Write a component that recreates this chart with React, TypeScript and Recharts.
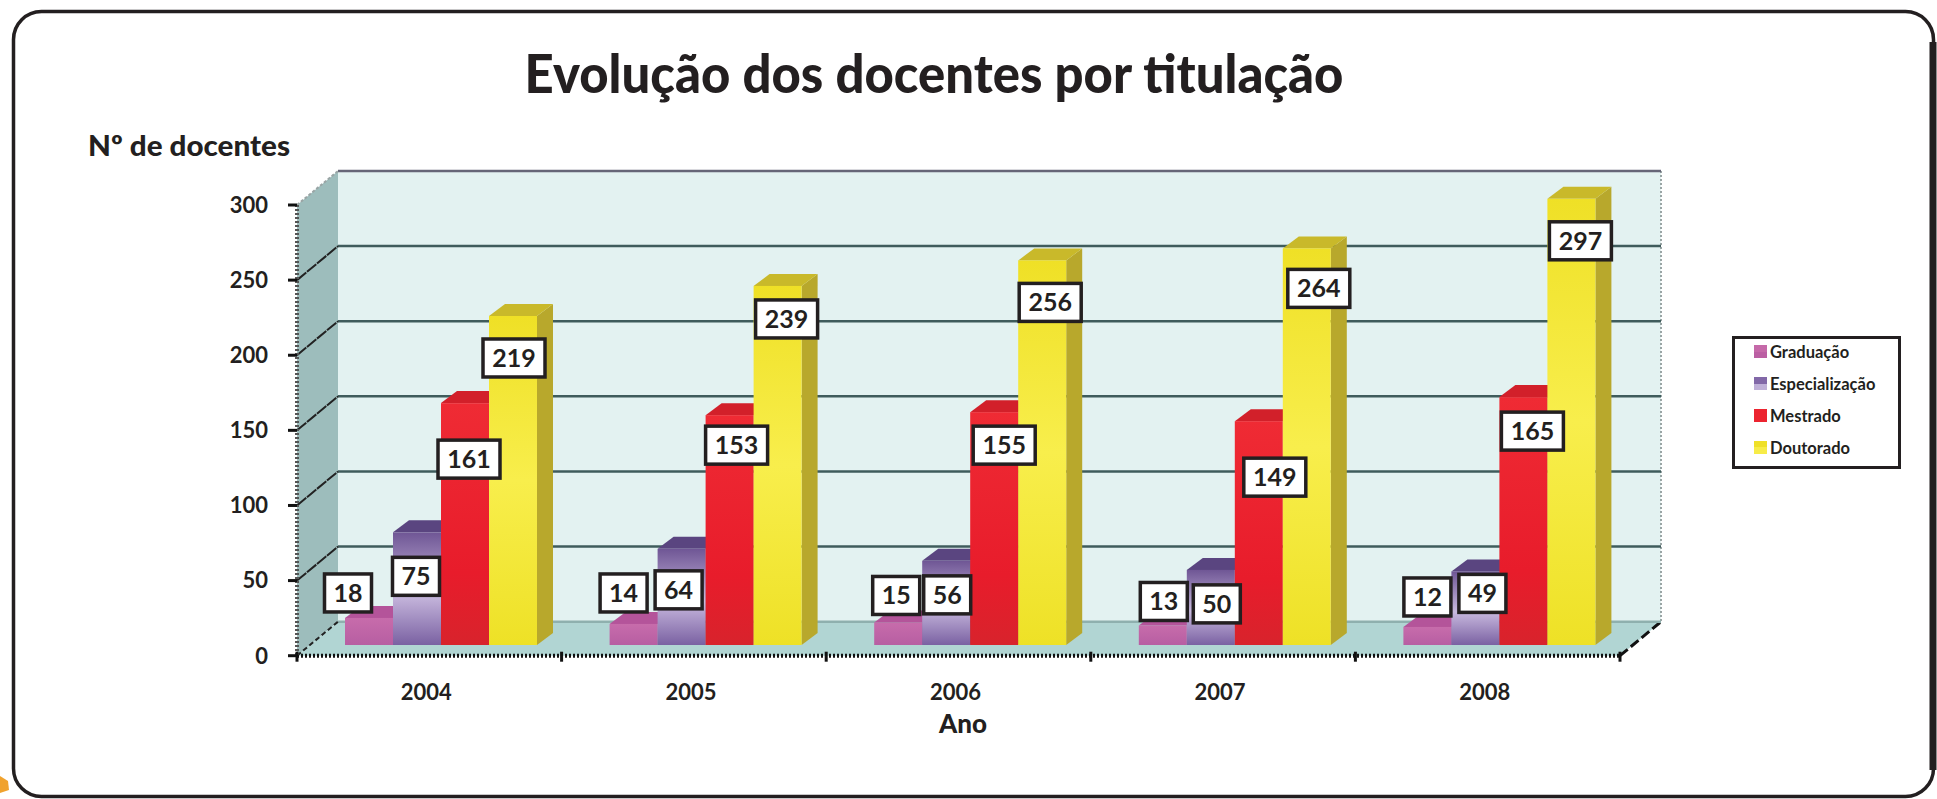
import { BarChart, Bar, XAxis, YAxis, CartesianGrid, Legend, LabelList } from "recharts";

const years = ["2004", "2005", "2006", "2007", "2008"];
const graduacao = [18, 14, 15, 13, 12];
const especializacao = [75, 64, 56, 50, 49];
const mestrado = [161, 153, 155, 149, 165];
const doutorado = [219, 239, 256, 264, 297];
const yTicks = [0, 50, 100, 150, 200, 250, 300];

// label boxes sit wherever the original author dragged them, offsets from each bar top
const gradOffsets = [[-21, -25], [-10, -31], [-2, -27], [1, -24], [0, -30]];
const espOffsets = [[-1, 44], [-3, 41], [1, 34], [6, 34], [7, 22]];
const mestOffsets = [[4, 56], [7, 30], [10, 33], [16, 56], [9, 34]];
const doutOffsets = [[1, 42], [9, 33], [8, 42], [12, 40], [9, 42]];

const data = years.map((year, i) => ({
  year,
  grad: graduacao[i],
  esp: especializacao[i],
  mest: mestrado[i],
  dout: doutorado[i],
}));

const W = 1937;
const H = 799;
const LEFT = 297;
const RIGHT = 1620;
const TOP = 205;
const BOTTOM = 655.7;
const BACK_DX = 41;
const BACK_DY = -34;
const BAND = (RIGHT - LEFT) / years.length;
const FONT = "Lato, sans-serif";
const INK = "#231f20";

const swatches: Record<string, string> = {
  "Graduação": "linear-gradient(#c569a9 50%, #bb5fa3 50%)",
  "Especialização": "linear-gradient(#8268a8 50%, #bfb0d8 50%)",
  "Mestrado": "#ec2430",
  "Doutorado": "linear-gradient(#efe028 50%, #f7ec48 50%)",
};

function BarShape(props: any) {
  const { x, y, width, height, fill, topColor, sideColor } = props;
  const bx = x + 12;
  const by = y - 10.7;
  const d = 16;
  const e = 12;
  return (
    <g>
      <polygon
        points={`${bx + width},${by} ${bx + width + d},${by - e} ${bx + width + d},${by + height - e} ${bx + width},${by + height}`}
        fill={sideColor}
      />
      <polygon
        points={`${bx},${by} ${bx + d},${by - e} ${bx + width + d},${by - e} ${bx + width},${by}`}
        fill={topColor}
      />
      <rect x={bx} y={by} width={width} height={height} fill={fill} />
    </g>
  );
}

function boxLabel(offsets: number[][]) {
  return (props: any) => {
    const { x, y, width, value, index } = props;
    const [dx, dy] = offsets[index];
    const cx = x + width / 2 + 12 + dx;
    const cy = y - 10.7 + dy;
    const w = String(value).length > 2 ? 62 : 47;
    return (
      <g>
        <rect x={cx - w / 2} y={cy - 19} width={w} height={38} fill="#fff" stroke={INK} strokeWidth={3.5} />
        <text x={cx} y={cy + 9} textAnchor="middle" fontFamily={FONT} fontWeight={700} fontSize={25} fill={INK}>
          {value}
        </text>
      </g>
    );
  };
}

function gridLine(props: any) {
  const { x1, x2, y1 } = props;
  const isTop = y1 < TOP + 1;
  const isFloor = y1 > BOTTOM - 1;
  return (
    <g>
      <line
        x1={x1 + BACK_DX}
        x2={x2 + BACK_DX}
        y1={y1 + BACK_DY}
        y2={y1 + BACK_DY}
        stroke={isFloor ? "#8fb0ae" : isTop ? "#667" : "#3f5c5c"}
        strokeWidth={2.5}
      />
      <line
        x1={x1}
        x2={x1 + BACK_DX}
        y1={y1}
        y2={y1 + BACK_DY}
        stroke={isTop ? "#9aa5a5" : "#222"}
        strokeWidth={2}
        strokeDasharray={isFloor ? "5 3" : isTop ? "3 2" : "12 1"}
      />
    </g>
  );
}

function YearTick(props: any) {
  const { x, y, payload, index } = props;
  const edge = x - BAND / 2;
  return (
    <g>
      <line x1={edge} x2={edge} y1={y - 12} y2={y - 2} stroke="#111" strokeWidth={3} />
      {index === years.length - 1 && <line x1={edge + BAND} x2={edge + BAND} y1={y - 12} y2={y - 2} stroke="#111" strokeWidth={3} />}
      <text x={x - 3} y={y + 36} textAnchor="middle" fontFamily={FONT} fontWeight={700} fontSize={22} fill={INK}>
        {payload.value}
      </text>
    </g>
  );
}

function LegendBox(props: any) {
  return (
    <div style={{ width: 163, height: 127, border: `3px solid ${INK}`, background: "#fff", fontFamily: FONT, fontWeight: 700, fontSize: 16.5, color: INK, position: "relative" }}>
      {(props.payload || []).map((item: any, i: number) => (
        <div key={item.value} style={{ position: "absolute", left: 19, top: 4 + i * 32, height: 13, whiteSpace: "nowrap", lineHeight: "18px" }}>
          <span style={{ display: "inline-block", width: 13, height: 13, background: swatches[item.value], marginRight: 3 }} />
          {item.value}
        </div>
      ))}
    </div>
  );
}

export default function App() {
  return (
    <div style={{ position: "absolute", left: 0, top: 0, width: W, height: H, overflow: "hidden", background: "#fff" }}>
      <style>{"body{margin:0}"}</style>
      <svg width={W} height={H} style={{ position: "absolute", left: 0, top: 0 }}>
        <rect x={13.5} y={11.5} width={1920} height={785} rx={28} fill="#fff" stroke={INK} strokeWidth={3.5} />
        <line x1={1933} x2={1933} y1={42} y2={770} stroke={INK} strokeWidth={7} />
        <polygon points="0,776 8,781 9,790 0,793" fill="#f0a22e" />
        <text x={934} y={93} textAnchor="middle" fontFamily={FONT} fontWeight={900} fontSize={54} textLength={819} lengthAdjust="spacingAndGlyphs" fill={INK}>
          Evolução dos docentes por titulação
        </text>
        <text x={88} y={156} fontFamily={FONT} fontWeight={900} fontSize={29} textLength={202} lengthAdjust="spacingAndGlyphs" fill={INK}>
          Nº de docentes
        </text>
        <text x={963} y={733} textAnchor="middle" fontFamily={FONT} fontWeight={900} fontSize={26} fill={INK}>
          Ano
        </text>
        <polygon points={`${LEFT},${BOTTOM} ${LEFT + BACK_DX},${BOTTOM + BACK_DY} ${LEFT + BACK_DX},${TOP + BACK_DY} ${LEFT},${TOP}`} fill="#9dbdbc" />
        <rect x={LEFT + BACK_DX} y={TOP + BACK_DY} width={RIGHT - LEFT} height={BOTTOM - TOP} fill="#e3f2f1" />
        <polygon points={`${LEFT},${BOTTOM} ${LEFT + BACK_DX},${BOTTOM + BACK_DY} ${RIGHT + BACK_DX},${BOTTOM + BACK_DY} ${RIGHT},${BOTTOM}`} fill="#b1d5d3" />
        <line x1={RIGHT + BACK_DX} x2={RIGHT + BACK_DX} y1={TOP + BACK_DY} y2={BOTTOM + BACK_DY} stroke="#9aa5a5" strokeWidth={2} strokeDasharray="2 2" />
        <line x1={RIGHT} x2={RIGHT + BACK_DX} y1={BOTTOM} y2={BOTTOM + BACK_DY} stroke="#111" strokeWidth={3} strokeDasharray="10 4" />
      </svg>
      <div style={{ position: "absolute", left: 0, top: 0 }}>
        <BarChart
          width={W}
          height={H}
          data={data}
          margin={{ top: TOP, right: W - RIGHT, bottom: 0, left: 0 }}
          barCategoryGap={36}
          barGap={0}
          barSize={48}
        >
          <defs>
            <linearGradient id="gGrad" x1="0" y1="0" x2="0" y2="1">
              <stop offset="0" stopColor="#c76cab" />
              <stop offset="1" stopColor="#b75ea2" />
            </linearGradient>
            <linearGradient id="gEsp" x1="0" y1="0" x2="0" y2="1">
              <stop offset="0" stopColor="#6f5695" />
              <stop offset="0.55" stopColor="#c8b9de" />
              <stop offset="1" stopColor="#7a61a2" />
            </linearGradient>
            <linearGradient id="gMest" x1="0" y1="0" x2="0" y2="1">
              <stop offset="0" stopColor="#ef2b34" />
              <stop offset="0.7" stopColor="#e81c2b" />
              <stop offset="1" stopColor="#d8232c" />
            </linearGradient>
            <linearGradient id="gDout" x1="0" y1="0" x2="0" y2="1">
              <stop offset="0" stopColor="#efe026" />
              <stop offset="0.5" stopColor="#f8ee4c" />
              <stop offset="1" stopColor="#eee126" />
            </linearGradient>
          </defs>
          <CartesianGrid vertical={false} horizontal={gridLine} />
          <XAxis
            dataKey="year"
            height={H - BOTTOM}
            axisLine={{ stroke: "#111", strokeWidth: 4, strokeDasharray: "2 2" }}
            tickLine={false}
            tick={<YearTick />}
            interval={0}
          />
          <YAxis
            width={LEFT}
            domain={[0, 300]}
            ticks={yTicks}
            interval={0}
            tickSize={9}
            tickMargin={20}
            axisLine={{ stroke: "#555", strokeWidth: 4, strokeDasharray: "2 2" }}
            tickLine={{ stroke: "#111", strokeWidth: 3 }}
            tick={{ fontFamily: FONT, fontWeight: 700, fontSize: 22, fill: INK }}
          />
          <Legend
            layout="vertical"
            verticalAlign="middle"
            align="center"
            itemSorter={null}
            content={<LegendBox />}
            wrapperStyle={{ position: "absolute", left: 1732, top: 336, width: 169, height: 133 }}
          />
          <Bar dataKey="grad" name="Graduação" fill="url(#gGrad)" isAnimationActive={false} shape={<BarShape topColor="#b4549a" sideColor="#9c4688" />}>
            <LabelList dataKey="grad" content={boxLabel(gradOffsets)} />
          </Bar>
          <Bar dataKey="esp" name="Especialização" fill="url(#gEsp)" isAnimationActive={false} shape={<BarShape topColor="#5a4580" sideColor="#5a4580" />}>
            <LabelList dataKey="esp" content={boxLabel(espOffsets)} />
          </Bar>
          <Bar dataKey="mest" name="Mestrado" fill="url(#gMest)" isAnimationActive={false} shape={<BarShape topColor="#d2202a" sideColor="#a81a22" />}>
            <LabelList dataKey="mest" content={boxLabel(mestOffsets)} />
          </Bar>
          <Bar dataKey="dout" name="Doutorado" fill="url(#gDout)" isAnimationActive={false} shape={<BarShape topColor="#c9b92a" sideColor="#b8a82c" />}>
            <LabelList dataKey="dout" content={boxLabel(doutOffsets)} />
          </Bar>
        </BarChart>
      </div>
    </div>
  );
}
